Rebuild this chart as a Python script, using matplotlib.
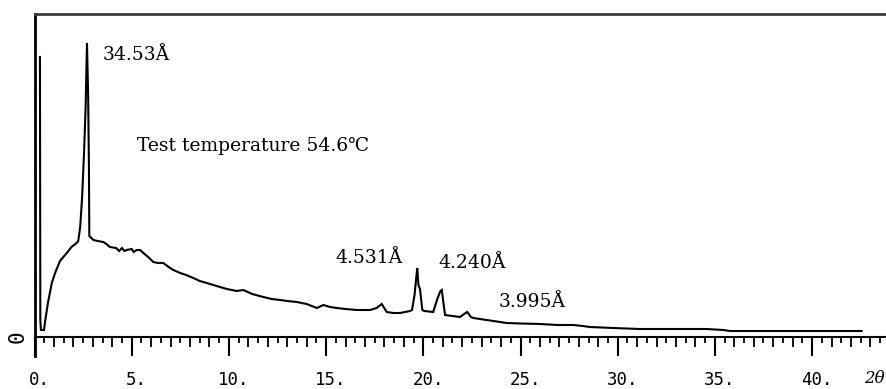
import matplotlib
matplotlib.use("Agg")
import matplotlib.pyplot as plt
from matplotlib.transforms import blended_transform_factory

# ---- data (2-theta in degrees, intensity in arbitrary units) ----
two_theta = [0.28, 0.29, 0.30, 0.33, 0.49, 0.54, 0.69, 0.89, 1.06, 1.31, 1.66, 1.90, 2.17,
             2.25, 2.35, 2.45, 2.55, 2.63, 2.70, 2.76, 2.80, 2.82, 3.03, 3.25, 3.54, 3.70,
             3.88, 4.20, 4.35, 4.50, 4.62, 4.74, 5.00, 5.10, 5.25, 5.43, 5.60, 5.85, 6.11,
             6.35, 6.63, 6.90,
             7.14, 7.50, 7.80, 8.17, 8.50, 8.86, 9.20, 9.54, 9.90, 10.40, 10.74, 11.20,
             11.77, 12.20, 12.63, 13.00, 13.49, 14.00, 14.52, 14.86, 15.20, 15.55, 16.00,
             16.57, 17.26, 17.60, 17.86, 18.12, 18.46, 18.80, 19.32, 19.42, 19.55, 19.63,
             19.69, 19.75, 19.83, 19.95, 20.05, 20.51, 20.72, 20.88, 20.95, 21.03, 21.12,
             21.50, 21.89, 22.10, 22.26, 22.45, 22.57, 23.26, 23.95, 24.29, 25.00, 26.00,
             26.90, 27.72, 28.20, 28.57, 29.77, 31.14, 32.86, 34.58, 35.43, 35.78, 37.99,
             42.55]
intensity = [280, 150, 17, 7, 7, 15, 34, 54, 64, 76, 84, 90, 94,
             96, 110, 140, 185, 230, 294, 240, 170, 101, 97, 96, 95, 93,
             90, 89, 86, 89, 86, 87, 88, 85, 87, 87, 84, 80, 75,
             74, 74, 70,
             67, 64, 62, 59, 56, 54, 52, 50, 48, 46, 47, 43,
             40, 38, 37, 36, 35, 33, 29, 32, 30, 29, 28,
             27, 27, 29, 33, 25, 24, 24, 26, 27, 42, 58,
             69, 52, 48, 27, 26, 25, 38, 46, 47, 35, 22,
             21, 20, 23, 25, 20, 19, 17, 15, 14, 13.5, 13,
             12, 12, 11, 10, 9, 8, 8, 8, 7, 6, 6,
             6]

peak_labels = ["34.53Å", "4.531Å", "4.240Å", "3.995Å"]
peak_label_pos = [(3.5, 282), (15.5, 79), (20.8, 74), (23.9, 35)]
annotation = "Test temperature 54.6℃"
major_ticks = [0, 5, 10, 15, 20, 25, 30, 35, 40]
tick_labels = ["0.", "5.", "10.", "15.", "20.", "25.", "30.", "35.", "40."]

W, H = 887, 389
fig = plt.figure(figsize=(W / 100, H / 100), dpi=100)
px_per_unit = 19.44
x0_px, y0_px, top_px = 34.5, 337, 14
xmax = 44.5
ax = fig.add_axes([x0_px / W, (H - y0_px) / H, xmax * px_per_unit / W, (y0_px - top_px) / H])
ax.set_xlim(0, xmax)
ax.set_ylim(0, y0_px - top_px)

ax.plot(two_theta, intensity, color="black", lw=1.5, solid_joinstyle="miter")

# frame
ax.spines["right"].set_visible(False)
ax.spines["top"].set_color("#3c3c3c")
ax.spines["top"].set_linewidth(2.0)
ax.spines["bottom"].set_linewidth(1.5)
ax.spines["left"].set_visible(False)
ax.axvline(0, ymin=-19 / 323, ymax=1, color="black", lw=2.0, clip_on=False)

# ticks
ax.set_yticks([])
ax.set_xticks(major_ticks)
ax.set_xticklabels([])
ax.set_xticks([i * 0.5 for i in range(0, 89) if i % 2 == 1], minor=True)
ax.tick_params(axis="x", which="major", direction="out", length=13.5, width=1.5, color="black")
ax.tick_params(axis="x", which="minor", direction="out", length=4.3, width=1.3, color="black")
sec = ax.secondary_xaxis("bottom")
sec.set_xticks([i for i in range(1, 45) if i % 5 != 0])
sec.set_xticklabels([])
sec.tick_params(axis="x", direction="out", length=7.5, width=1.3, color="black")
sec.spines["bottom"].set_visible(False)

trans = blended_transform_factory(ax.transData, ax.transAxes)
for v, lab in zip(major_ticks, tick_labels):
    ax.text(v + 0.25, -0.134, lab, transform=trans, ha="center", va="center",
            family="DejaVu Sans Mono", fontsize=12.5)
ax.text(43.2, -0.127, "2θ", transform=trans, ha="center", va="center",
        family="DejaVu Serif", style="italic", fontsize=12)
ax.text(-0.019, 0.0, "0", transform=ax.transAxes, ha="center", va="center",
        rotation=90, family="DejaVu Sans Mono", fontsize=15)

fams = ["DejaVu Serif", "DejaVu Sans", "Noto Sans CJK SC"]
for lab, (x, y) in zip(peak_labels, peak_label_pos):
    ax.text(x, y, lab, ha="left", va="center", family=fams, fontsize=13.5)
ax.text(5.25, 191, annotation, ha="left", va="center", family=fams, fontsize=13.5)

fig.savefig("out.png", dpi=100)
